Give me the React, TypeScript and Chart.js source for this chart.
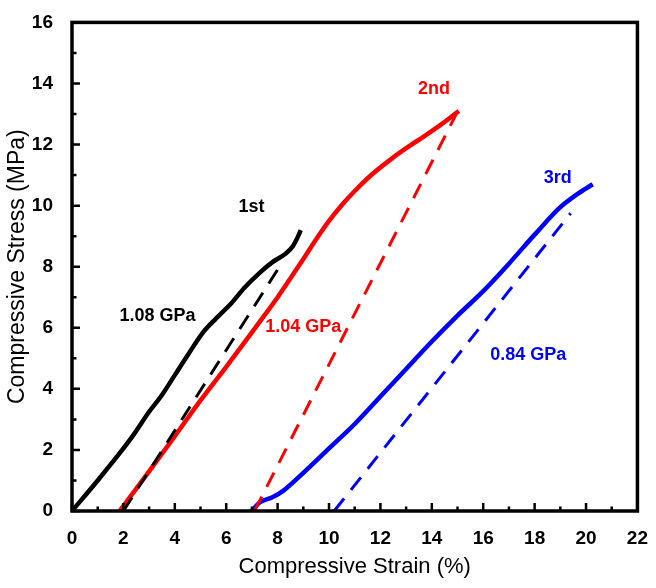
import React, { useEffect, useRef } from "react";
import { Chart, registerables } from "chart.js";
Chart.register(...registerables);

// ---- data (strain %, stress MPa) ----
const firstX = [0, 1, 2, 2.4, 3, 3.5, 4, 4.5, 5.1, 5.6, 6.2, 6.7, 7.3, 7.8, 8.3, 8.6, 8.8, 8.9];
const firstY = [0, 1.0, 2.05, 2.5, 3.25, 3.8, 4.45, 5.1, 5.85, 6.3, 6.8, 7.3, 7.8, 8.15, 8.42, 8.68, 9.0, 9.2];

const secondX = [1.85, 3, 4, 5, 6, 7, 7.5, 8, 8.5, 9, 9.5, 10, 10.5, 11, 11.6, 12.3, 13, 13.7, 14.3, 14.7, 15.05];
const secondY = [0, 1.3, 2.45, 3.62, 4.72, 5.85, 6.42, 7.0, 7.62, 8.25, 8.9, 9.5, 10.02, 10.48, 10.97, 11.45, 11.88, 12.27, 12.62, 12.87, 13.1];

const thirdX = [7.0, 7.3, 7.8, 8.2, 9.0, 10.0, 11.0, 12.0, 13.0, 14.0, 15.0, 16.0, 17.0, 18.0, 19.0, 19.7, 20.26];
const thirdY = [0, 0.28, 0.45, 0.65, 1.25, 2.05, 2.85, 3.75, 4.65, 5.55, 6.4, 7.2, 8.1, 9.05, 9.95, 10.4, 10.7];

const firstFitX = [2.0, 8.15];
const firstFitY = [0, 8.1];
const secondFitX = [7.1, 14.95];
const secondFitY = [0, 13.0];
const thirdFitX = [10.2, 19.4];
const thirdFitY = [0, 9.75];

// ---- annotations ----
const labelTexts = ["1st", "1.08 GPa", "2nd", "1.04 GPa", "3rd", "0.84 GPa"];
const labelX = [6.98, 3.33, 14.08, 9.0, 18.9, 17.75];
const labelY = [9.95, 6.39, 13.82, 6.01, 10.91, 5.1];
const labelColors = ["#000000", "#000000", "#ff0000", "#ff0000", "#0000ff", "#0000ff"];

// ---- axes ----
const xMin = 0, xMax = 22, xStep = 2;
const yMin = 0, yMax = 16, yStep = 2;
const xMinorTicks = Array.from({ length: 23 }, (_, i) => i);
const yMinorTicks = Array.from({ length: 17 }, (_, i) => i);

const FONT = "'Liberation Sans', Arial, Helvetica, sans-serif";

const zip = (xs: number[], ys: number[]) => xs.map((x, i) => ({ x, y: ys[i] }));

const framePlugin = {
  id: "frameTicks",
  afterDraw(chart: any) {
    const { ctx, chartArea: ca } = chart;
    const xs = chart.scales.x;
    const ys = chart.scales.y;
    ctx.save();
    ctx.strokeStyle = "#000";
    ctx.lineWidth = 2.5;
    ctx.beginPath();
    xMinorTicks.forEach((v) => {
      const px = xs.getPixelForValue(v);
      const len = v % 2 === 0 ? 8 : 4.5;
      ctx.moveTo(px, ca.bottom);
      ctx.lineTo(px, ca.bottom - len);
    });
    yMinorTicks.forEach((v) => {
      const py = ys.getPixelForValue(v);
      const len = v % 2 === 0 ? 8 : 4.5;
      ctx.moveTo(ca.left, py);
      ctx.lineTo(ca.left + len, py);
    });
    ctx.stroke();
    ctx.lineWidth = 3.5;
    ctx.strokeRect(ca.left, ca.top, ca.right - ca.left, ca.bottom - ca.top);
    // labels
    ctx.font = `bold 18px ${FONT}`;
    ctx.textAlign = "center";
    ctx.textBaseline = "middle";
    labelTexts.forEach((t, i) => {
      ctx.fillStyle = labelColors[i];
      ctx.fillText(t, xs.getPixelForValue(labelX[i]), ys.getPixelForValue(labelY[i]));
    });
    ctx.restore();
  },
};

export default function App() {
  const ref = useRef<HTMLCanvasElement | null>(null);
  useEffect(() => {
    if (!ref.current) return;
    const solid = (data: any, color: string) => ({
      data,
      borderColor: color,
      backgroundColor: color,
      borderWidth: 4.5,
      pointRadius: 0,
      cubicInterpolationMode: "monotone",
      fill: false,
    });
    const dashed = (data: any, color: string) => ({
      data,
      borderColor: color,
      backgroundColor: color,
      borderWidth: 3,
      borderDash: [16, 11],
      pointRadius: 0,
      tension: 0,
      fill: false,
    });
    const chart = new Chart(ref.current, {
      type: "line",
      data: {
        datasets: [
          dashed(zip(thirdFitX, thirdFitY), "#0000ff"),
          dashed(zip(secondFitX, secondFitY), "#ff0000"),
          dashed(zip(firstFitX, firstFitY), "#000000"),
          solid(zip(thirdX, thirdY), "#0000ff"),
          solid(zip(secondX, secondY), "#ff0000"),
          solid(zip(firstX, firstY), "#000000"),
        ] as any,
      },
      options: {
        responsive: false,
        animation: false,
        devicePixelRatio: 1,
        layout: { padding: { top: 16, right: 14, left: 0, bottom: 0 } },
        plugins: { legend: { display: false }, tooltip: { enabled: false } },
        scales: {
          x: {
            type: "linear",
            min: xMin,
            max: xMax,
            grid: { display: false },
            border: { display: false },
            ticks: {
              stepSize: xStep,
              color: "#000",
              padding: 8,
              maxRotation: 0,
              font: { family: FONT, size: 19, weight: "bold" },
            },
            title: {
              display: true,
              text: "Compressive Strain (%)",
              color: "#000",
              font: { family: FONT, size: 22, weight: "normal" },
              padding: { top: 0, bottom: 8 },
            },
            afterFit: (s: any) => {
              s.height = 77;
            },
          },
          y: {
            type: "linear",
            min: yMin,
            max: yMax,
            grid: { display: false },
            border: { display: false },
            ticks: {
              stepSize: yStep,
              color: "#000",
              padding: 11,
              font: { family: FONT, size: 19, weight: "bold" },
            },
            title: {
              display: true,
              text: "Compressive Stress (MPa)",
              color: "#000",
              font: { family: FONT, size: 23, weight: "normal" },
              padding: { top: 4, bottom: 0 },
            },
            afterFit: (s: any) => {
              s.width = 72;
            },
          },
        },
      } as any,
      plugins: [framePlugin],
    });
    return () => chart.destroy();
  }, []);
  return (
    <canvas
      ref={ref}
      width={656}
      height={588}
      style={{ position: "fixed", left: 0, top: 0, background: "#fff" }}
    />
  );
}
